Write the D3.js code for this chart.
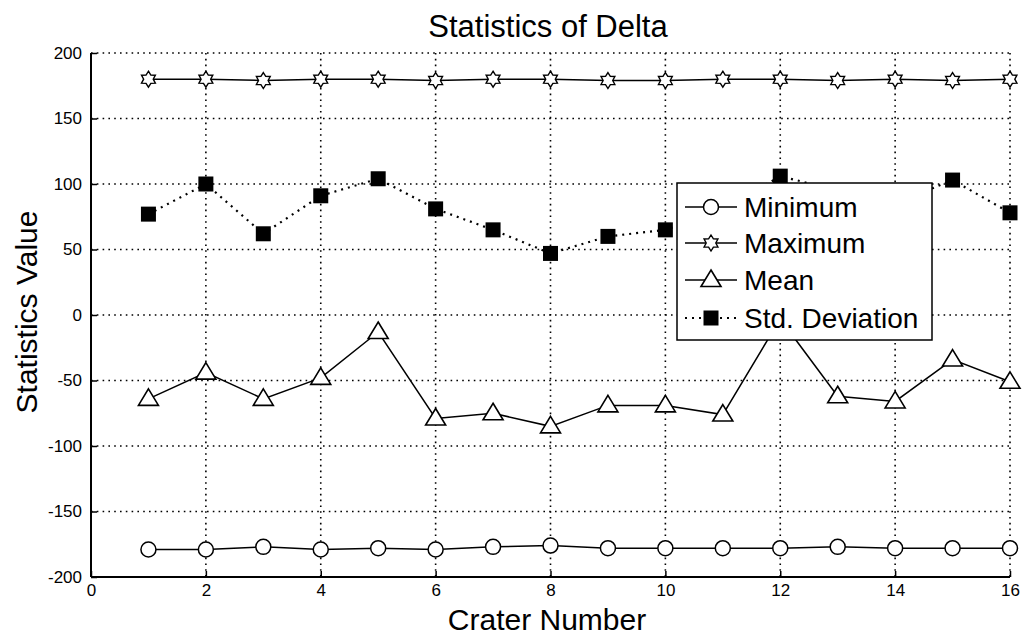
<!DOCTYPE html>
<html>
<head>
<meta charset="utf-8">
<script src="https://cdn.jsdelivr.net/npm/d3@7"></script>
<style>
  body { margin: 0; background: #fff; }
  text { font-family: "Liberation Sans", Arial, sans-serif; fill: #000; }
  .axis text { font-size: 17px; }
</style>
</head>
<body>
<svg id="chart" width="1022" height="636"></svg>
<script>
var craters = d3.range(1, 17);
var minimum = [-179, -179, -177, -179, -178, -179, -177, -176, -178, -178, -178, -178, -177, -178, -178, -178];
var maximum = [180, 180, 179, 180, 180, 179, 180, 180, 179, 179, 180, 180, 179, 180, 179, 180];
var mean = [-64, -44, -64, -48, -13, -79, -75, -85, -69, -69, -76, -3, -62, -66, -34, -51];
var stdDev = [77, 100, 62, 91, 104, 81, 65, 47, 60, 65, 80, 106, 95, 85, 103, 78];
var xTicks = [0, 2, 4, 6, 8, 10, 12, 14, 16];
var yTicks = [-200, -150, -100, -50, 0, 50, 100, 150, 200];
var seriesNames = ["Minimum", "Maximum", "Mean", "Std. Deviation"];

var svg = d3.select("#chart"),
    margin = {top: 53, right: 12, bottom: 59, left: 91},
    width = +svg.attr("width") - margin.left - margin.right,
    height = +svg.attr("height") - margin.top - margin.bottom;

var x = d3.scaleLinear().domain([0, 16]).range([0, width]);
var y = d3.scaleLinear().domain([-200, 200]).range([height, 0]);

var g = svg.append("g")
    .attr("transform", "translate(" + margin.left + "," + margin.top + ")");

// dotted grid
g.append("g").selectAll("line").data(xTicks.slice(1)).enter().append("line")
    .attr("x1", function(d) { return x(d); }).attr("x2", function(d) { return x(d); })
    .attr("y1", 0).attr("y2", height)
    .attr("stroke", "#000").attr("stroke-width", 1.6)
    .attr("stroke-dasharray", "1.6,4.2");
g.append("g").selectAll("line").data(yTicks.slice(1)).enter().append("line")
    .attr("y1", function(d) { return y(d); }).attr("y2", function(d) { return y(d); })
    .attr("x1", 0).attr("x2", width)
    .attr("stroke", "#000").attr("stroke-width", 1.6)
    .attr("stroke-dasharray", "1.6,4.2");

// axes
var fmt = function(d) { return String(d); };
var xAxis = g.append("g").attr("class", "axis")
    .attr("transform", "translate(0," + height + ")")
    .call(d3.axisBottom(x).tickValues(xTicks).tickFormat(fmt).tickSize(-6).tickPadding(7));
var yAxis = g.append("g").attr("class", "axis")
    .call(d3.axisLeft(y).tickValues(yTicks).tickFormat(fmt).tickSize(-6).tickPadding(9));
[xAxis, yAxis].forEach(function(a) {
  a.attr("font-size", 17).attr("font-family", "'Liberation Sans', Arial, sans-serif");
  a.select(".domain").attr("stroke-width", 2).attr("d",
    a === xAxis ? "M0,0H" + width : "M0,0V" + height);
  a.selectAll(".tick line").attr("stroke-width", 1.5);
});

// markers
function hexagram(r) {
  var pts = [];
  for (var i = 0; i < 12; i++) {
    var a = Math.PI / 6 * i;
    var rr = i % 2 === 0 ? r : r * 0.6;
    pts.push([rr * Math.sin(a), -rr * Math.cos(a)]);
  }
  return "M" + pts.join("L") + "Z";
}
var triPath = "M0,-10L10,6.5L-10,6.5Z";

function drawMarker(sel, kind) {
  if (kind === 0) {
    sel.append("circle").attr("r", 7.5).attr("fill", "#fff").attr("stroke", "#000").attr("stroke-width", 1.5);
  } else if (kind === 1) {
    sel.append("path").attr("d", hexagram(8)).attr("fill", "#fff").attr("stroke", "#000").attr("stroke-width", 1.4);
  } else if (kind === 2) {
    sel.append("path").attr("d", triPath).attr("fill", "#fff").attr("stroke", "#000").attr("stroke-width", 1.6);
  } else {
    sel.append("rect").attr("x", -7.5).attr("y", -7.5).attr("width", 15).attr("height", 15).attr("fill", "#000");
  }
}

var series = [minimum, maximum, mean, stdDev];
var line = d3.line()
    .x(function(d, i) { return x(craters[i]); })
    .y(function(d) { return y(d); });

series.forEach(function(vals, k) {
  g.append("path").datum(vals)
    .attr("d", line)
    .attr("fill", "none").attr("stroke", "#000")
    .attr("stroke-width", k === 3 ? 2.2 : 1.5)
    .attr("stroke-dasharray", k === 3 ? "2,5" : null);
  g.append("g").selectAll("g").data(vals).enter().append("g")
    .attr("transform", function(d, i) { return "translate(" + x(craters[i]) + "," + y(d) + ")"; })
    .each(function() { drawMarker(d3.select(this), k); });
});

// legend
var lg = svg.append("g").attr("transform", "translate(677,183)");
lg.append("rect").attr("width", 255).attr("height", 157)
  .attr("fill", "#fff").attr("stroke", "#000").attr("stroke-width", 1.5);
var rowsY = [24, 60, 97, 135];
seriesNames.forEach(function(name, k) {
  var row = lg.append("g").attr("transform", "translate(0," + rowsY[k] + ")");
  row.append("line").attr("x1", 8).attr("x2", 60).attr("y1", 0).attr("y2", 0)
    .attr("stroke", "#000").attr("stroke-width", k === 3 ? 2.2 : 1.5)
    .attr("stroke-dasharray", k === 3 ? "2,5" : null);
  drawMarker(row.append("g").attr("transform", "translate(34,0)"), k);
  row.append("text").attr("x", 67).attr("y", 0).attr("dy", "0.36em")
    .style("font-size", "28px").text(name);
});

// titles
svg.append("text").attr("x", 548).attr("y", 37)
  .attr("text-anchor", "middle").style("font-size", "31px").text("Statistics of Delta");
svg.append("text").attr("x", 547).attr("y", 630)
  .attr("text-anchor", "middle").style("font-size", "30px").text("Crater Number");
svg.append("text").attr("transform", "translate(37,312) rotate(-90)")
  .attr("text-anchor", "middle").style("font-size", "30px").text("Statistics Value");
</script>
</body>
</html>
